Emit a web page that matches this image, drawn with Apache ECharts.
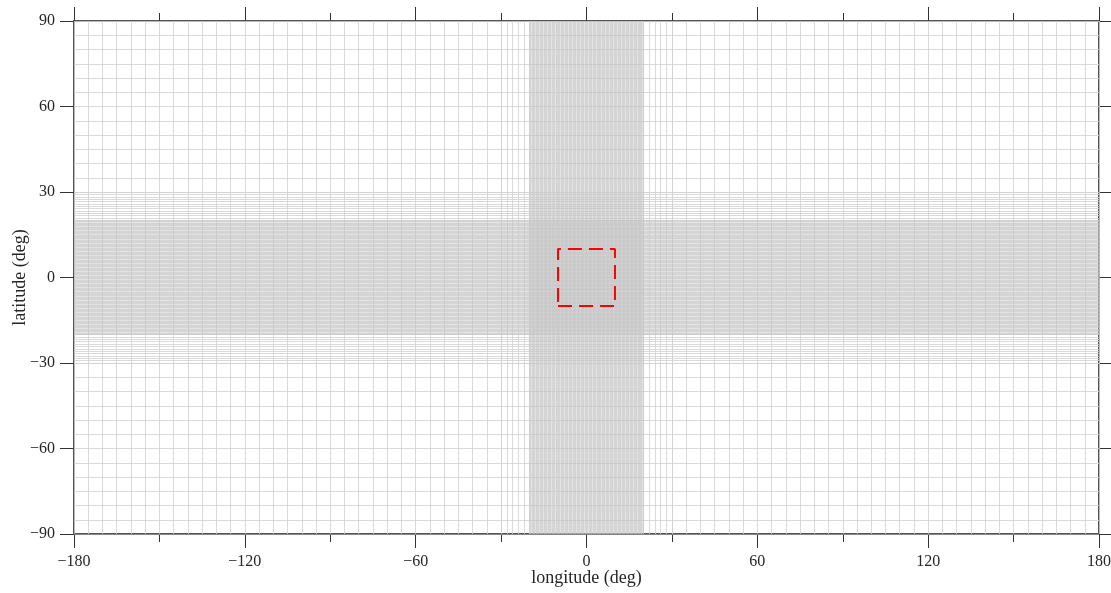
<!DOCTYPE html>
<html>
<head>
<meta charset="utf-8">
<script src="https://cdn.jsdelivr.net/npm/echarts@6/dist/echarts.min.js"></script>
<style>
  html, body { margin: 0; padding: 0; background: #ffffff; }
  #chart { width: 1111px; height: 593px; }
</style>
</head>
<body>
<div id="chart"></div>
<script>
// Variable-resolution mesh: [start, end, step] per zone (degrees)
const lonZones = [[-180, -30, 5], [-30, -20, 2], [-20, 20, 0.2], [20, 30, 2], [30, 180, 5]];
const latZones = [[-90, -30, 5], [-30, -20, 10 / 12], [-20, 20, 0.2], [20, 30, 10 / 12], [30, 90, 5]];

// Refined target region outline (lon, lat corners)
const boxLon = [-10, 10, 10, -10, -10];
const boxLat = [-10, -10, 10, 10, -10];

// Axis ticks and labels
const lonTicks = [-180, -120, -60, 0, 60, 120, 180];
const lonLabels = ['\u2212180', '\u2212120', '\u221260', '0', '60', '120', '180'];
const latTicks = [-90, -60, -30, 0, 30, 60, 90];
const latLabels = ['\u221290', '\u221260', '\u221230', '0', '30', '60', '90'];

function zoneLines(zones, fine) {
  const out = [];
  zones.forEach(function (z) {
    const isFine = z[2] < 0.5;
    if (isFine !== fine) return;
    for (let k = 0; z[0] + k * z[2] <= z[1] + 1e-9; k++) {
      out.push(+(z[0] + k * z[2]).toFixed(6));
    }
  });
  return out;
}

function meshSegments(fine) {
  const segs = [];
  zoneLines(lonZones, fine).forEach(function (x) {
    segs.push({ coords: [[x, -90], [x, 90]] });
  });
  zoneLines(latZones, fine).forEach(function (y) {
    segs.push({ coords: [[-180, y], [180, y]] });
  });
  return segs;
}

const serif = 'Liberation Serif';
const textColor = '#262626';
const frameColor = '#555555';
const tickColor = '#333333';

const chart = echarts.init(document.getElementById('chart'), null, { renderer: 'canvas' });

function xAxisDef(pos, showLabels) {
  return {
    type: 'value', position: pos, min: -180, max: 180, interval: 60,
    name: showLabels ? 'longitude (deg)' : '', nameLocation: 'middle', nameGap: 35,
    nameMoveOverlap: false,
    nameTextStyle: { fontFamily: serif, fontSize: 18, color: textColor },
    axisLine: { show: true, onZero: false, lineStyle: { color: frameColor, width: 2 } },
    axisTick: { show: true, inside: false, length: 14, lineStyle: { color: tickColor, width: 1 } },
    minorTick: { show: true, splitNumber: 2, length: 8, lineStyle: { color: tickColor, width: 1 } },
    axisLabel: {
      show: showLabels, margin: 20, fontFamily: serif, fontSize: 16, color: textColor,
      formatter: function (v) { const i = lonTicks.indexOf(v); return i >= 0 ? lonLabels[i] : ''; }
    },
    splitLine: { show: false }, minorSplitLine: { show: false }
  };
}

function yAxisDef(pos, showLabels) {
  return {
    type: 'value', position: pos, min: -90, max: 90, interval: 30,
    name: showLabels ? 'latitude (deg)' : '', nameLocation: 'middle', nameGap: 45, nameRotate: 90,
    nameMoveOverlap: false,
    nameTextStyle: { fontFamily: serif, fontSize: 18, color: textColor },
    axisLine: { show: true, onZero: false, lineStyle: { color: frameColor, width: 2 } },
    axisTick: { show: true, inside: false, length: 14, lineStyle: { color: tickColor, width: 1 } },
    axisLabel: {
      show: showLabels, margin: 19, fontFamily: serif, fontSize: 16, color: textColor,
      formatter: function (v) { const i = latTicks.indexOf(v); return i >= 0 ? latLabels[i] : ''; }
    },
    splitLine: { show: false }
  };
}

chart.setOption({
  animation: false,
  backgroundColor: '#ffffff',
  grid: { left: 74, right: 12, top: 21, bottom: 59, containLabel: false, outerBoundsMode: 'none' },
  xAxis: [xAxisDef('bottom', true), xAxisDef('top', false)],
  yAxis: [yAxisDef('left', true), yAxisDef('right', false)],
  series: [
    {
      name: 'coarse mesh', type: 'lines', coordinateSystem: 'cartesian2d',
      xAxisIndex: 0, yAxisIndex: 0, polyline: false, silent: true, z: 1,
      lineStyle: { color: '#d0d0d0', width: 0.8, opacity: 1 },
      data: meshSegments(false)
    },
    {
      name: 'fine mesh', type: 'lines', coordinateSystem: 'cartesian2d',
      xAxisIndex: 0, yAxisIndex: 0, polyline: false, silent: true, z: 1,
      lineStyle: { color: '#c6c6c6', width: 0.5, opacity: 1 },
      data: meshSegments(true)
    },
    {
      name: 'target region', type: 'line', xAxisIndex: 0, yAxisIndex: 0,
      showSymbol: false, symbol: 'none', silent: true, z: 5,
      lineStyle: { color: '#ff0000', width: 2, type: [14, 7] },
      data: boxLon.map(function (x, i) { return [x, boxLat[i]]; })
    }
  ]
});
</script>
</body>
</html>
